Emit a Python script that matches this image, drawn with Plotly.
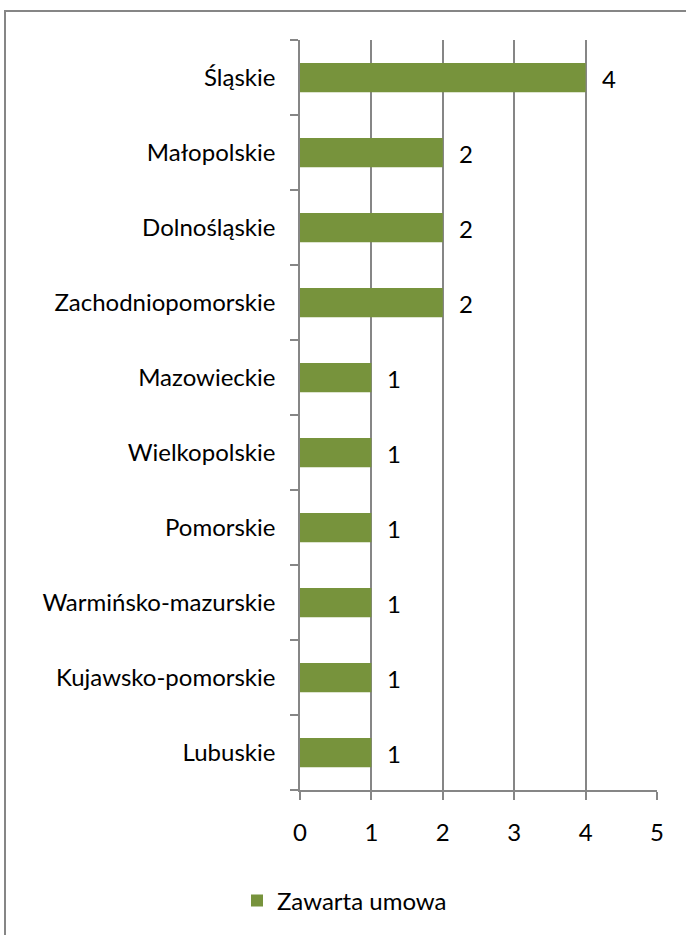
import plotly.graph_objects as go

categories = ["Śląskie", "Małopolskie", "Dolnośląskie", "Zachodniopomorskie",
              "Mazowieckie", "Wielkopolskie", "Pomorskie", "Warmińsko-mazurskie",
              "Kujawsko-pomorskie", "Lubuskie"]
values = [4, 2, 2, 2, 1, 1, 1, 1, 1, 1]
series_name = "Zawarta umowa"
x_ticks = [0, 1, 2, 3, 4, 5]

BAR = "#77933C"
GRID = "#868686"
FONT = "Lato"
FS = 24

fig = go.Figure()
fig.add_trace(go.Bar(
    y=categories, x=values, orientation="h", name=series_name,
    marker=dict(color=BAR, line=dict(width=0)),
))

for c, v in zip(categories, values):
    fig.add_annotation(x=v, y=c, text=str(v), showarrow=False,
                       xanchor="left", xshift=14, yshift=-1,
                       font=dict(family=FONT, size=FS, color="black"))

W, H = 686, 935
L, R, T, B = 300, 29, 40, 145
pw, ph = W - L - R, H - T - B

def px(xp):
    return (xp - L) / pw

def py(yp):
    return (H - B - yp) / ph

fig.add_shape(type="rect", xref="paper", yref="paper",
              x0=px(5), x1=px(700), y0=py(950), y1=py(11),
              line=dict(color=GRID, width=2), fillcolor="rgba(0,0,0,0)", layer="below")

fig.update_layout(
    width=W, height=H,
    margin=dict(l=L, r=R, t=T, b=B),
    paper_bgcolor="white", plot_bgcolor="white",
    bargap=0.61,
    font=dict(family=FONT, size=FS, color="black"),
    showlegend=True,
    legend=dict(orientation="h", x=px(237), xanchor="left",
                y=py(901), yanchor="middle",
                font=dict(family=FONT, size=FS, color="black"),
                itemwidth=30),
    xaxis=dict(range=[0, 5], tickvals=x_ticks, showgrid=True, gridcolor=GRID, gridwidth=1.5,
               showline=True, linecolor=GRID, linewidth=1.5,
               ticks="outside", ticklen=8, tickcolor=GRID, tickwidth=1.5,
               ticklabelstandoff=12, zeroline=False, fixedrange=True),
    yaxis=dict(categoryorder="array", categoryarray=categories[::-1],
               showline=True, linecolor=GRID, linewidth=1.5,
               ticks="outside", ticklen=8, tickcolor=GRID, tickwidth=1.5,
               tickson="boundaries", ticklabelstandoff=18, showgrid=False,
               range=[-0.5, 9.5]),
)

fig.write_html("out.html", config={"displayModeBar": False},
               post_script="document.body.style.margin='0';")
